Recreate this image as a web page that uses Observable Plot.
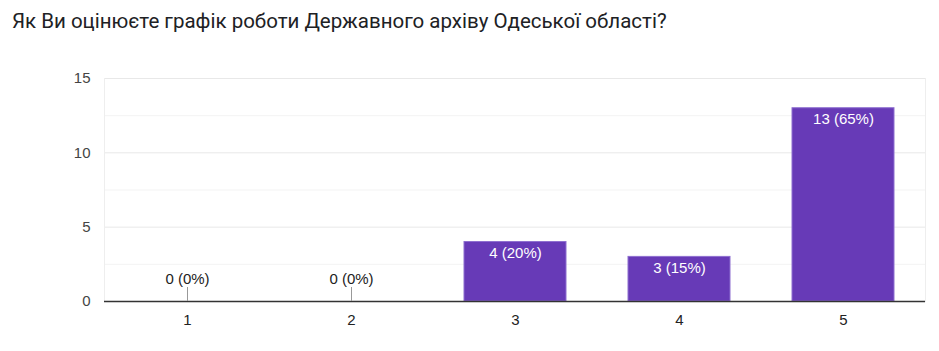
<!DOCTYPE html>
<html>
<head>
<meta charset="utf-8">
<script src="https://cdn.jsdelivr.net/npm/d3@7"></script>
<script src="https://cdn.jsdelivr.net/npm/@observablehq/plot@0.6"></script>
<style>
  html, body { margin: 0; padding: 0; background: #fff; }
  #title { height: 50px; box-sizing: border-box; padding: 9px 0 0 12px; font-family: Roboto, sans-serif; font-size: 20.5px; color: #202124; white-space: nowrap; }
  svg { display: block; }
</style>
</head>
<body>
<div id="title">Як Ви оцінюєте графік роботи Державного архіву Одеської області?</div>
<div id="chart"></div>
<script>
const categories = ["1", "2", "3", "4", "5"];
const counts = [0, 0, 4, 3, 13];
const percents = [0, 0, 20, 15, 65];
const yTicks = [0, 5, 10, 15];
const yMinorGrid = [2.5, 7.5, 12.5];

const data = categories.map((c, i) => ({
  cat: c, count: counts[i], label: `${counts[i]} (${percents[i]}%)`
}));
const nonZero = data.filter(d => d.count > 0);
const zero = data.filter(d => d.count === 0);

const chart = Plot.plot({
  width: 939,
  height: 301,
  marginTop: 28,
  marginBottom: 50,
  marginLeft: 104,
  marginRight: 14,
  style: { fontFamily: "Arial, 'Liberation Sans', sans-serif", fontSize: "15px", background: "#fff" },
  x: { domain: categories, paddingInner: 0.38, paddingOuter: 0.19, label: null, tickSize: 0, tickPadding: 13 },
  y: { domain: [0, 15], ticks: yTicks, label: null, tickSize: 0, tickPadding: 14 },
  marks: [
    Plot.ruleY(yMinorGrid, { stroke: "#f3f3f3" }),
    Plot.ruleY(yTicks.filter(t => t > 0), { stroke: "#e8e8e8" }),
    Plot.frame({ stroke: "#eeeeee", anchor: "left" }),
    Plot.frame({ stroke: "#eeeeee", anchor: "right" }),
    Plot.barY(nonZero, { x: "cat", y: "count", fill: "#673ab7", stroke: "#8e6fd0", strokeWidth: 1 }),
    Plot.ruleY([0], { stroke: "#333", strokeWidth: 1.5 }),
    Plot.ruleX(zero, { x: "cat", y1: 0, y2: 0, insetTop: -14, stroke: "#999", strokeWidth: 1 }),
    Plot.text(zero, { x: "cat", y: 0, text: "label", dy: -22, fill: "#222", fontSize: 15 }),
    Plot.text(nonZero, { x: "cat", y: "count", text: "label", dy: 11, fill: "#fff", fontSize: 15 }),
    Plot.axisY({ ticks: yTicks, tickSize: 0, tickPadding: 14, color: "#444", fontSize: 15 }),
    Plot.axisX({ tickSize: 0, tickPadding: 13, color: "#222", fontSize: 15 })
  ]
});
document.getElementById("chart").appendChild(chart);
</script>
</body>
</html>
